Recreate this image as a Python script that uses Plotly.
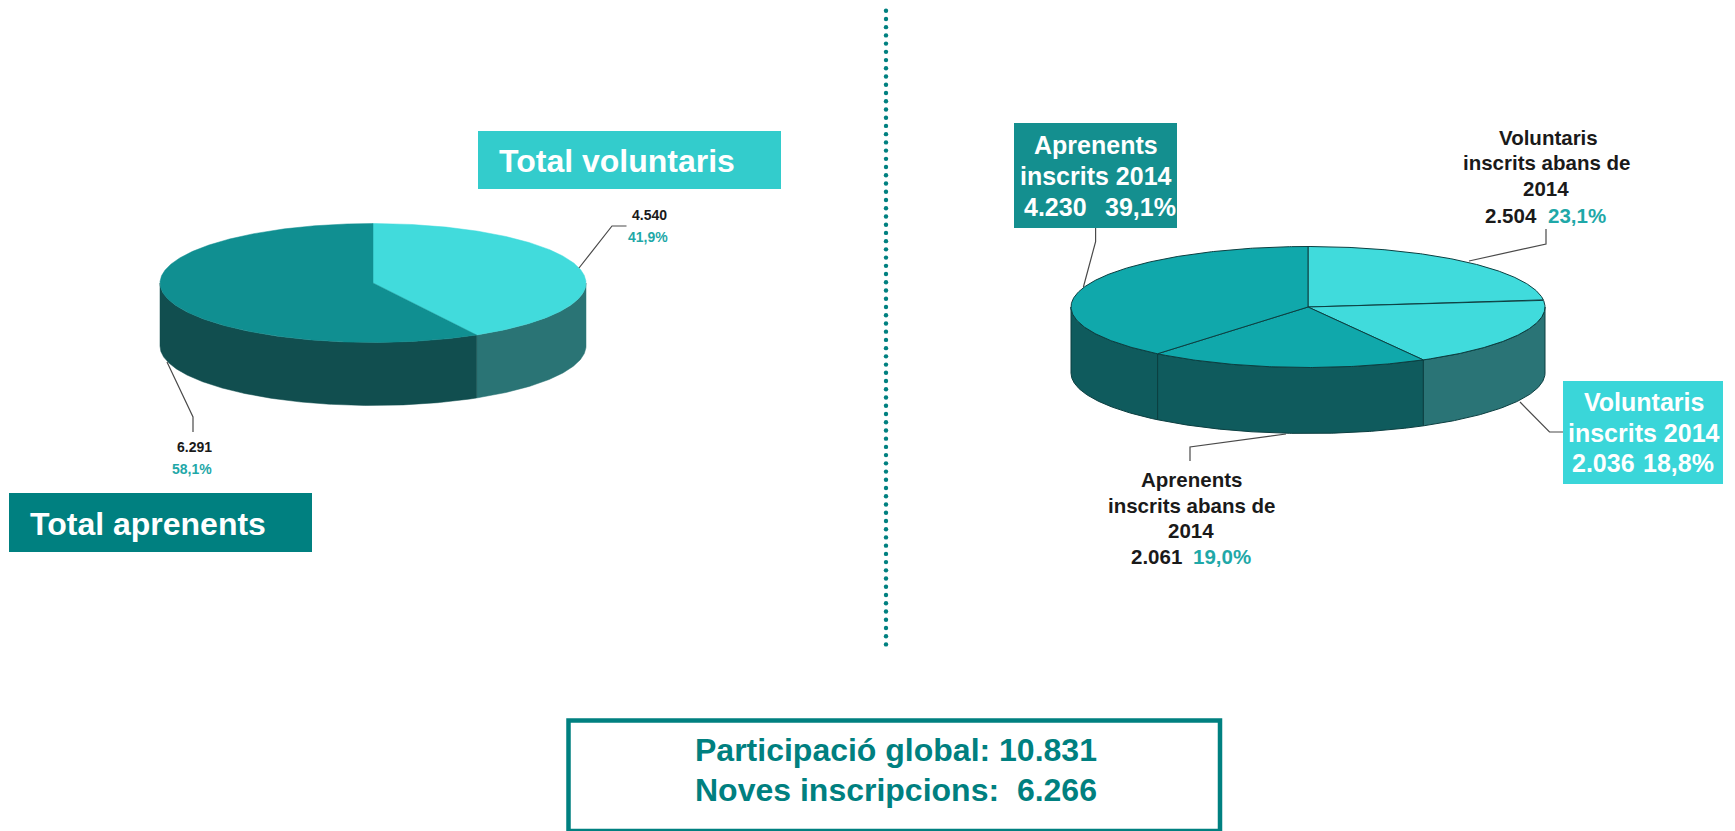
import numpy as np
import plotly.graph_objects as go

# ---------- data ----------
left_names = ["Total voluntaris", "Total aprenents"]
left_values = [4540, 6291]
right_names = ["Voluntaris inscrits abans de 2014", "Voluntaris inscrits 2014",
               "Aprenents inscrits abans de 2014", "Aprenents inscrits 2014"]
right_values = [2504, 2036, 2061, 4230]
left_top_colors = ["#41DBDC", "#108F91"]
left_side_colors = ["#2A7475", "#114E4F"]
right_top_colors = ["#40DBDC", "#40DBDC", "#10A8AB", "#10A8AB"]
right_side_colors = ["#2A7476", "#2A7476", "#0F5B5D", "#0F5B5D"]

W, H = 1735, 831
FONT = "Liberation Sans, Arial, sans-serif"
TEAL = "#008080"
PCT = "#1FA8A8"


def arc(a, b):
    n = max(2, int(abs(b - a)) * 2 + 2)
    return np.radians(np.linspace(a, b, n))


def add_pie(fig, values, names, top_cols, side_cols, depth, xa, ya, outline):
    v = np.array(values, float)
    edges = np.concatenate([[0], np.cumsum(v) / v.sum() * 360])
    lw = 1 if outline else 0.5
    for i, name in enumerate(names):
        a, b = max(edges[i], 90), min(edges[i + 1], 270)
        if b <= a:
            continue
        t = arc(a, b)
        x = np.concatenate([np.sin(t), np.sin(t[::-1])])
        y = np.concatenate([np.cos(t), np.cos(t[::-1]) - depth])
        fig.add_trace(go.Scatter(x=np.r_[x, x[0]], y=np.r_[y, y[0]], mode="lines", fill="toself",
                                 fillcolor=side_cols[i], line=dict(color=outline or side_cols[i], width=lw),
                                 xaxis=xa, yaxis=ya, name=name, hoverinfo="name", showlegend=False))
    for i, name in enumerate(names):
        t = arc(edges[i], edges[i + 1])
        x = np.r_[0, np.sin(t), 0]
        y = np.r_[0, np.cos(t), 0]
        fig.add_trace(go.Scatter(x=x, y=y, mode="lines", fill="toself",
                                 fillcolor=top_cols[i], line=dict(color=outline or top_cols[i], width=lw),
                                 xaxis=xa, yaxis=ya, name=name, hoverinfo="name", showlegend=False))


fig = go.Figure()

# pie frames in pixels: centre x, centre y, x radius, y radius, depth
L = dict(cx=373, cy=283, rx=213, ry=59.5, d=63)
R = dict(cx=1308, cy=307, rx=237, ry=60.5, d=66)

add_pie(fig, left_values, left_names, left_top_colors, left_side_colors, L["d"] / L["ry"], "x", "y", None)
add_pie(fig, right_values, right_names, right_top_colors, right_side_colors, R["d"] / R["ry"], "x2", "y2", "#0C3F41")

# divider on the pixel-scaled overlay axes
div_y = np.arange(10.7, 650, 8.23)
fig.add_trace(go.Scatter(x=[886] * len(div_y), y=div_y, mode="markers", xaxis="x3", yaxis="y3",
                         marker=dict(size=4.4, color=TEAL), hoverinfo="skip", showlegend=False))


def axis_pair(p):
    top = p["cy"] - p["ry"]
    bottom = p["cy"] + p["ry"] + p["d"]
    xa = dict(domain=[(p["cx"] - p["rx"] - 3) / W, (p["cx"] + p["rx"] + 3) / W],
              range=[-1 - 3 / p["rx"], 1 + 3 / p["rx"]], visible=False, fixedrange=True)
    ya = dict(domain=[1 - (bottom + 3) / H, 1 - (top - 3) / H],
              range=[-1 - p["d"] / p["ry"] - 3 / p["ry"], 1 + 3 / p["ry"]], visible=False, fixedrange=True)
    return xa, ya


xa1, ya1 = axis_pair(L)
xa2, ya2 = axis_pair(R)


def rect(x0, y0, x1, y1, fill, line=None, width=0):
    return dict(type="rect", xref="x3", yref="y3", x0=x0, y0=y0, x1=x1, y1=y1, fillcolor=fill,
                line=dict(color=line or fill, width=width), layer="below")


def leader(pts):
    path = "M" + " L".join(f"{x},{y}" for x, y in pts)
    return dict(type="path", xref="x3", yref="y3", path=path, line=dict(color="#4A4A4A", width=1.2), layer="above")


shapes = [
    rect(478, 131, 781, 189, "#33CCCC"),
    rect(9, 493, 312, 552, TEAL),
    rect(1014, 123, 1177, 228, "#148F8F"),
    rect(1563, 381, 1723, 484, "#3AD6D9"),
    rect(568.5, 720.5, 1220, 831, "#FFFFFF", TEAL, 4.5),
    leader([(579, 268), (612, 226), (626.5, 226)]),
    leader([(167, 362), (193, 417), (193, 432)]),
    leader([(1095.6, 228), (1095.6, 241.7), (1083.4, 287)]),
    leader([(1546, 229), (1546, 244), (1469, 261)]),
    leader([(1520, 402), (1549.5, 432), (1563, 432)]),
    leader([(1286, 434), (1190, 447), (1190, 461)]),
]


def txt(x, y, s, size, color, bold=True, anchor="center"):
    return dict(xref="x3", yref="y3", x=x, y=y, text=f"<b>{s}</b>" if bold else s, showarrow=False,
                xanchor=anchor, yanchor="middle", font=dict(family=FONT, size=size, color=color))


annotations = [
    txt(497, 161, "Total voluntaris", 32, "#FFFFFF", anchor="left"),
    txt(28, 524, "Total aprenents", 32, "#FFFFFF", anchor="left"),
    txt(649, 215, "4.540", 14, "#1A1A1A"),
    txt(648, 237, "41,9%", 14, PCT),
    txt(194, 447, "6.291", 14, "#1A1A1A"),
    txt(192, 469, "58,1%", 14, PCT),
    # right: Aprenents inscrits 2014
    txt(1096, 145, "Aprenents", 25, "#FFFFFF"),
    txt(1096, 176, "inscrits 2014", 25, "#FFFFFF"),
    txt(1055, 207, "4.230", 25, "#FFFFFF"),
    txt(1140, 207, "39,1%", 25, "#FFFFFF"),
    # right: Voluntaris inscrits 2014
    txt(1644, 402, "Voluntaris", 25, "#FFFFFF"),
    txt(1644, 433, "inscrits 2014", 25, "#FFFFFF"),
    txt(1603, 463, "2.036", 25, "#FFFFFF"),
    txt(1678, 463, "18,8%", 25, "#FFFFFF"),
    # right: Voluntaris abans
    txt(1548, 137, "Voluntaris", 20.5, "#1A1A1A"),
    txt(1546, 162, "inscrits abans de", 20.5, "#1A1A1A"),
    txt(1546, 188, "2014", 20.5, "#1A1A1A"),
    txt(1511, 215, "2.504", 20.5, "#1A1A1A"),
    txt(1577, 215, "23,1%", 20.5, PCT),
    # right: Aprenents abans
    txt(1191, 479, "Aprenents", 20.5, "#1A1A1A"),
    txt(1191, 505, "inscrits abans de", 20.5, "#1A1A1A"),
    txt(1191, 530, "2014", 20.5, "#1A1A1A"),
    txt(1156, 556, "2.061", 20.5, "#1A1A1A"),
    txt(1222, 556, "19,0%", 20.5, PCT),
    # bottom box
    txt(896, 750, "Participació global: 10.831", 32, TEAL),
    txt(896, 790, "Noves inscripcions:  6.266", 32, TEAL),
]

fig.update_layout(
    width=W, height=H, margin=dict(l=0, r=0, t=0, b=0), paper_bgcolor="#FFFFFF", plot_bgcolor="rgba(0,0,0,0)",
    showlegend=False, shapes=shapes, annotations=annotations,
    xaxis=xa1, yaxis=ya1, xaxis2=xa2, yaxis2=ya2,
    xaxis3=dict(domain=[0, 1], range=[0, W], visible=False, fixedrange=True),
    yaxis3=dict(domain=[0, 1], range=[H, 0], visible=False, fixedrange=True),
)

fig.write_html("out.html", config=dict(displayModeBar=False),
               post_script="document.body.style.margin='0';document.body.style.overflow='hidden';")
